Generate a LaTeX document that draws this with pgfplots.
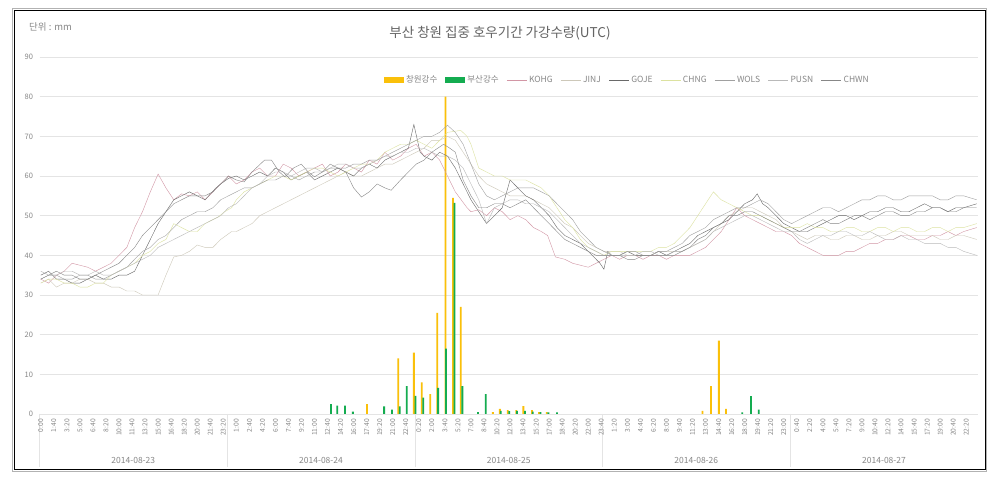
\documentclass[border=0pt]{standalone}
\usepackage{fontspec}
\setmainfont{Noto Sans CJK KR}
\usepackage{pgfplots}
\pgfplotsset{compat=1.18}
\definecolor{cY}{RGB}{250,192,10}
\definecolor{cG}{RGB}{20,172,80}
\definecolor{cKOHG}{RGB}{210,150,165}
\definecolor{cJINJ}{RGB}{205,200,185}
\definecolor{cGOJE}{RGB}{105,105,105}
\definecolor{cCHNG}{RGB}{220,226,160}
\definecolor{cWOLS}{RGB}{160,160,160}
\definecolor{cPUSN}{RGB}{185,185,185}
\definecolor{cCHWN}{RGB}{135,135,135}
\definecolor{txt}{RGB}{135,135,135}
\definecolor{ttl}{RGB}{100,100,100}
\definecolor{gridc}{RGB}{228,228,228}
\pgfplotsset{lin/.style={line width=0.4pt, mark=none,
  legend image code/.code={\draw[##1] (0pt,0pt) -- (20pt,0pt);}}}
\begin{document}
\begin{tikzpicture}[x=1pt,y=1pt]
\useasboundingbox (0,0) rectangle (1007,479);
\fill[white] (0,0) rectangle (1007,479);
\draw[gray!60, line width=1.6pt] (12.5,7.5) rectangle (986.5,470.5);
\draw[black, line width=1pt] (14.5,9.5) rectangle (985,468.5);
\node[text=ttl, font=\fontsize{13.5}{15}\selectfont] at (500,446) {부산 창원 집중 호우기간 가강수량(UTC)};
\node[anchor=west, text=txt, font=\fontsize{9.5}{10}\selectfont, inner sep=0pt] at (29,452) {단위 : mm};
% day separators and labels
\foreach \xx in {39.5,227.2,414.9,602.5,790.2} {\draw[gridc, line width=0.8pt] (\xx,65) -- (\xx,12);}
\foreach \xx/\dd in {133.3/2014-08-23,321/2014-08-24,508.7/2014-08-25,696.3/2014-08-26,884/2014-08-27}
  {\node[text=txt, font=\fontsize{8.5}{9}\selectfont] at (\xx,19) {\dd};}
\begin{axis}[
  at={(39.5pt,65pt)}, anchor=south west,
  width=938.5pt, height=357pt, scale only axis,
  xmin=-0.1667, xmax=119.8333, ymin=0, ymax=90,
  ytick={0,10,...,90},
  ymajorgrids, grid style={draw=gridc, line width=0.9pt},
  axis line style={draw=none},
  major tick length=0pt,
  /pgf/number format/assume math mode=true,
  yticklabel style={font=\fontsize{7.5}{8}\selectfont, text=txt, xshift=-3pt},
  xtick={0,1.6666667,...,119},
  xticklabels={0:00,1:40,3:20,5:00,6:40,8:20,10:00,11:40,13:20,15:00,16:40,18:20,20:00,21:40,23:20,1:00,2:40,4:20,6:00,7:40,9:20,11:00,12:40,14:20,16:00,17:40,19:20,21:00,22:40,0:20,2:00,3:40,5:20,7:00,8:40,10:20,12:00,13:40,15:20,17:00,18:40,20:20,22:00,23:40,1:20,3:00,4:40,6:20,8:00,9:40,11:20,13:00,14:40,16:20,18:00,19:40,21:20,23:00,0:40,2:20,4:00,5:40,7:20,9:00,10:40,12:20,14:00,15:40,17:20,19:00,20:40,22:20},
  xticklabel style={rotate=90, anchor=east, font=\fontsize{6.7}{7}\selectfont, text=txt, inner sep=1pt},
  xticklabel shift=4pt,
  legend style={at={(0.6265,0.9356)}, anchor=center, draw=none, fill=none,
    font=\fontsize{8.5}{9}\selectfont, text=txt, inner sep=0pt,
    /tikz/every even column/.append style={column sep=6pt}},
  legend columns=-1,
  clip=false,
]
\addplot[ybar, bar width=1.8pt, bar shift=0pt, fill=cY, draw=none,
  legend image code/.code={\fill[cY] (0pt,-3.2pt) rectangle (20pt,3.2pt);}]
coordinates {(41.7,2.5)(45.7,14)(47.7,15.5)(48.7,8)(49.8,5)(50.7,25.5)(51.75,80)(52.7,54.5)(53.7,27)(57.8,0.5)(58.7,1.3)(59.7,1)(60.8,1)(61.7,2)(62.8,1)(63.7,0.5)(64.7,0.5)(84.6,0.8)(85.7,7)(86.7,18.5)(87.6,1.3)};
\addlegendentry{창원강수}
\addplot[ybar, bar width=1.8pt, bar shift=0pt, fill=cG, draw=none,
  legend image code/.code={\fill[cG] (0pt,-3.2pt) rectangle (20pt,3.2pt);}]
coordinates {(37.1,2.5)(37.9,2.1)(38.9,2.1)(39.9,0.6)(43.9,1.9)(44.9,1.1)(45.9,1.9)(46.8,7)(47.9,4.6)(48.9,4.1)(50.8,6.6)(51.8,16.5)(52.9,53.2)(53.9,7)(55.9,0.5)(56.9,5)(58.8,0.8)(59.9,0.7)(60.9,0.8)(61.9,0.8)(62.9,0.6)(63.9,0.5)(64.9,0.4)(66.0,0.4)(89.7,0.4)(90.8,4.5)(91.8,1.1)};
\addlegendentry{부산강수}
\addplot[lin, cKOHG] coordinates {(0,34)(1,33)(2,35)(3,36)(4,38)(5,37.5)(6,37)(7,36)(8,37)(9,38)(10,40)(11,42)(12,47)(13,51)(14,56)(15,60.5)(16,57)(17,54)(18,55.5)(19,55)(20,56)(21,54)(22,56)(23,58)(24,60)(25,58)(26,59)(27,61)(28,62)(29,60)(30,60)(31,63)(32,62)(33,60)(34,61)(35,62)(36,63)(37,60)(38,61)(39,63)(40,62)(41,61)(42,64)(43,63)(44,66)(45,64)(46,65)(47,67)(48,68)(49,65)(50,66)(51,64)(52,60)(53,56)(54.5,52)(55,51)(56,51.5)(57,50)(58,52)(59,51)(60,49)(61,50)(62,49)(63,47)(64,46)(64.8,45)(65.8,39.6)(67,39)(68,38)(69,37.5)(70,37)(71,38)(72,39)(73,40)(74,39)(75,40)(76,40)(77,39)(78,40)(79,40)(80,39)(81,40)(82,40)(83,40)(84,41)(85,42)(86,44)(87,46)(88,49)(89,52)(90,50)(91,49)(92,48)(93,47)(94,46)(95,46)(96,45)(97,43)(98,42)(99,41)(100,40)(101,40)(102,40)(103,41)(104,41)(105,42)(106,43)(107,43)(108,44)(109,44)(110,45)(111,45)(112,44)(113,44)(114,45)(115,45)(116,46)(117,45)(118,46)(119.67,47)};
\addlegendentry{KOHG}
\addplot[lin, cJINJ] coordinates {(0,33)(1,34)(2,32)(3,33)(4,33)(5,34)(6,34)(7,33)(8,33)(9,32)(10,32)(11,31)(12,31)(13,30)(14,30)(15,30)(16,35)(17,39.6)(18,40)(19,41)(20,42.6)(21,42)(22,42)(23,44)(24.4,46)(25,46)(26,47)(27,48)(28,50)(29,51)(30,52)(31,53)(32,54)(33,55)(34,56)(35,57)(36,58)(37,59)(38,60)(39,61)(40,60)(41,60)(42,61)(43,62)(44,63)(45,63)(46,64)(47,65)(48,66)(49,67)(50,69)(51,69)(52,70)(53,69)(54,66)(55,63)(56,60)(57,58)(58,57)(59,56)(60,55)(61,55)(62,55)(63,54)(64,53)(65,52)(66,50)(67,48)(68,47)(69,45)(70,43)(71,42)(72,41)(73,41)(74,41)(75,40)(76,40)(77,40)(78,40)(79,41)(80,41)(81,41)(82,41)(83,42)(84,43)(85,44)(86,46)(87,48)(88,50)(89,51)(90,52)(91,52)(92,51)(93,50)(94,49)(95,47)(96,46)(97,45)(98,44)(99,45)(100,45)(101,44)(102,44)(103,45)(104,45)(105,44)(106,44)(107,45)(108,45)(109,46)(110,46)(111,45)(112,45)(113,45)(114,45)(115,44)(116,44)(117,45)(118,45)(119.67,44)};
\addlegendentry{JINJ}
\addplot[lin, cGOJE] coordinates {(0,35)(1,36)(2,34)(3,34)(4,33)(5,33)(6,34)(7,35)(8,34)(9,34)(10,35)(11,35)(12,36)(13,40)(14,44)(15,48)(16,51)(17,54)(18,55)(19,56)(20,55)(21,54)(22.4,57)(23,58)(24,59.4)(25,60)(26,59)(27,60)(28,61)(29,60)(30,62)(31,61)(32,59)(33,60)(34,61)(35,59)(36,60)(37,61)(38,62)(39,61)(40,60)(41,62)(42,63)(43,62)(44,64)(45,65)(46,66)(47,67)(47.7,73)(48.5,66)(49,65)(50,64)(51,66)(52,65)(53,62)(54,58)(55,54)(56,51)(57,48)(58,50)(59,52)(60,59)(61,57)(62,55)(63,54)(64,52)(65,50)(66,47)(67,45)(68,44)(69,43)(70,41)(71.5,38)(72,36.5)(72.5,41)(73,40)(74,40)(75,41)(76,40)(77,40)(78,40)(79,41)(80,40)(81,41)(82,42)(83,43)(84,45)(85,46)(86,47)(87,48)(88,49)(89,51)(90,53)(91,54)(91.6,55.5)(92.3,53)(93,52)(94,50)(95,48)(96,47)(97,46)(98,46)(99,47)(100,48)(101,49)(102,50)(103,50)(104,49)(105,50)(106,51)(107,51)(108,52)(109,52)(110,51)(111,51)(112,52)(113,53)(114,52)(115,52)(116,51)(117,52)(118,52)(119.67,53)};
\addlegendentry{GOJE}
\addplot[lin, cCHNG] coordinates {(0,33)(1,34)(2,34)(3,33)(4,33)(5,32)(6,32)(7,33)(8,33)(9,35)(10,36)(11,37)(12,38)(13,40)(14,41)(15,43)(16,44)(17,48)(18,47)(19,46)(20,46)(21,48)(22.7,49.7)(23.5,51)(24.4,52)(25,54)(26,56)(27,57)(28,58)(29,59)(30,60)(31,60)(32,59)(33,60)(34,61)(35,62)(36,62)(37,61)(38,60)(39,61)(40,62)(41,63)(42,63)(43,64)(44,66)(45,67)(46,68)(47,68)(48,69)(49,68)(50,67)(51,69)(52,71)(53.7,71.5)(54.5,70)(55,68)(56,62)(57,61)(58,60)(59,60)(60,59)(61,59)(62,59)(63,58)(64,57)(65,55)(66,52)(67,49)(68,47)(69,44)(70,42)(71,41)(72,40)(73,41)(74,41)(75,41)(76,41)(77,41)(78,41)(79,42)(80,42)(81,43)(82,45)(83,47)(84,50)(85,53)(86,56)(87,54)(88,53)(89,52)(90,51)(91,50)(92,50)(93,49)(94,48)(95,47)(96,47)(97,47)(98,48)(99,47)(100,47)(101,46)(102,46)(103,47)(104,47)(105,46)(106,46)(107,47)(108,47)(109,46)(110,47)(111,47)(112,46)(113,46)(114,47)(115,47)(116,46)(117,47)(118,47)(119.67,48)};
\addlegendentry{CHNG}
\addplot[lin, cWOLS] coordinates {(0,34)(1,35)(2,35)(3,34)(4,34)(5,35)(6,35)(7,34)(8,34)(9,35)(10,36)(11,37)(12,39)(13,41)(14,42)(15,44)(16,45)(17,47)(18,49)(19,50)(20,51)(21,51)(22,52)(23,54)(24,55)(25,56)(26,57)(27,57)(28,58)(29,59)(30,59)(31,60)(32,60)(33,59)(34,60)(35,61)(36,61)(37,62)(38,62)(39,62)(40,63)(41,63)(42,64)(43,64)(44,65)(45,66)(46,67)(47,68)(48,69)(49,70)(50,70)(51,71)(52,72.8)(53,71)(54,68)(55,63)(56,58)(57,55)(58,54)(59,55)(60,56)(61,57)(62,57)(63,57)(64,56)(65,55)(66,53)(67,51)(68,49)(69,46)(70,44)(71,42)(72,41)(73,40)(74,40)(75,41)(76,41)(77,40)(78,40)(79,41)(80,41)(81,42)(82,43)(83,45)(84,46)(85,47)(86,49)(87,50)(88,51)(89,52)(90,52)(91,53)(92,54)(93,53)(94,51)(95,49)(96,48)(97,49)(98,50)(99,51)(100,52)(101,52)(102,51)(103,52)(104,53)(105,54)(106,54)(107,55)(108,55)(109,54)(110,54)(111,55)(112,55)(113,55)(114,55)(115,54)(116,54)(117,55)(118,55)(119.67,54)};
\addlegendentry{WOLS}
\addplot[lin, cPUSN] coordinates {(0,36)(1,35)(2,35)(3,36)(4,36)(5,35)(6,35)(7,36)(8,35)(9,35)(10,36)(11,37)(12,38)(13,39)(14,40)(15,42)(16,43)(17,44)(18,45)(19,46)(20,47)(21,48)(22,49)(23,50)(24,52)(25,53)(26,55)(27,57)(28,58)(29,60)(30,61)(31,61)(32,60)(33,61)(34,62)(35,62)(36,61)(37,62)(38,63)(39,63)(40,62)(41,62)(42,63)(43,64)(44,65)(45,65)(46,66)(47,66)(48,67)(49,67)(50,66)(51,65)(52,65)(53,64)(54,62)(55,58)(56,54)(57,48)(58,52)(59,53)(60,54)(61,54)(62,53)(63,53)(64,52)(65,51)(66,49)(67,47)(68,45)(69,43)(70,42)(71,41)(72,40)(73,40)(74,40)(75,40)(76,40)(77,41)(78,41)(79,40)(80,40)(81,41)(82,41)(83,42)(84,43)(85,44)(86,46)(87,47)(88,48)(89,49)(90,50)(91,50)(92,49)(93,48)(94,47)(95,46)(96,46)(97,44)(98,43)(99,44)(100,45)(101,45)(102,46)(103,46)(104,45)(105,45)(106,46)(107,45)(108,44)(109,44)(110,45)(111,44)(112,44)(113,43)(114,43)(115,43)(116,42)(117,42)(118,41)(119.67,40)};
\addlegendentry{PUSN}
\addplot[lin, cCHWN] coordinates {(0,34)(1,35)(2,36)(3,35)(4,35)(5,34)(6,34)(7,35)(8,36)(9,37)(10,38)(11,40)(12,42)(13,45)(14,47)(15,49)(16,51)(17,53)(18,54)(19,55)(20,55)(21,55)(22,56)(23,58)(24,60)(25,59)(26,58.5)(27,61)(28.6,64)(29.5,64)(30.5,61)(31.2,59.8)(32.3,62)(33.3,63)(34.2,61)(35,59.8)(36,61)(37,63)(38,62)(39,61)(40,57)(41,54.7)(42,56)(43,58)(44,57)(44.8,56.4)(46,59)(47,61)(48,63)(49,64)(50,66)(51.5,68)(52.3,67)(53,66)(54,59)(55,55)(56,52)(57,52)(58,53)(59,53)(60,52)(61,53)(62,54)(63,52)(64,50)(65,48)(66,46)(67,44)(68,43)(69,42)(70,41)(71,40)(72,40)(73,40)(74,40)(75,39)(76,39)(77,40)(78,40)(79,40)(80,40)(81,40)(82,41)(83,42)(84,44)(85,45)(86,47)(87,48)(88,50)(89,50)(90,51)(91,51)(92,50)(93,49)(94,48)(95,47)(96,46)(97,46)(98,47)(99,48)(100,49)(101,48)(102,48)(103,49)(104,50)(105,50)(106,49)(107,50)(108,51)(109,51)(110,50)(111,50)(112,51)(113,51)(114,52)(115,52)(116,51)(117,51)(118,52)(119.67,52)};
\addlegendentry{CHWN}
\end{axis}
\end{tikzpicture}
\end{document}
